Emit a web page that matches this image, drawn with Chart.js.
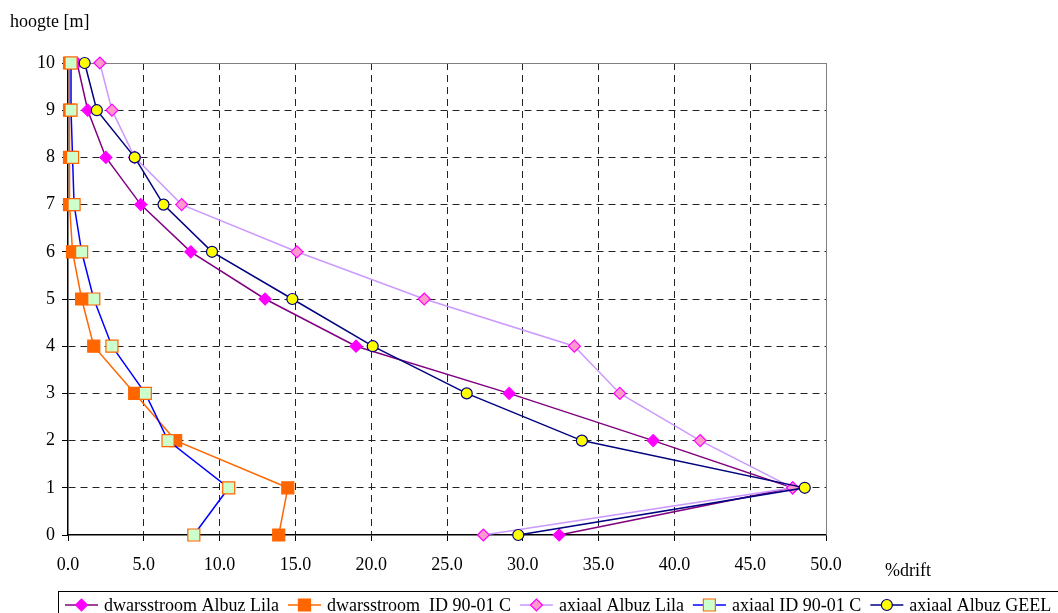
<!DOCTYPE html>
<html>
<head>
<meta charset="utf-8">
<script src="https://cdn.jsdelivr.net/npm/chart.js@4.4.1/dist/chart.umd.min.js"></script>
<style>
  html, body { margin: 0; padding: 0; background: #fff; }
  #wrap { width: 1058px; height: 613px; position: relative; }
</style>
</head>
<body>
<div id="wrap"><canvas id="driftChart"></canvas></div>
<script>
// hoogte (m) en % drift per meetreeks
const hoogtes = [0, 1, 2, 3, 4, 5, 6, 7, 8, 9, 10];
const dwarsAlbuzLila = [32.4, 47.8, 38.6, 29.1, 19.0, 13.0, 8.1, 4.8, 2.5, 1.3, 0.6];
const dwarsID9001C = [13.9, 14.5, 7.1, 4.4, 1.7, 0.9, 0.3, 0.1, 0.1, 0.1, 0.1];
const axiaalAlbuzLila = [27.4, 47.8, 41.7, 36.4, 33.4, 23.5, 15.1, 7.5, 4.4, 2.9, 2.1];
const axiaalID9001C = [8.3, 10.6, 6.6, 5.1, 2.9, 1.7, 0.9, 0.4, 0.3, 0.2, 0.2];
const axiaalAlbuzGeel = [29.7, 48.6, 33.9, 26.3, 20.1, 14.8, 9.5, 6.3, 4.4, 1.9, 1.1];

const xTicks = [0, 5, 10, 15, 20, 25, 30, 35, 40, 45, 50];
const yTicks = [0, 1, 2, 3, 4, 5, 6, 7, 8, 9, 10];

const FONT = '"Liberation Serif", "Times New Roman", serif';

const toPoints = (vals) => vals.map((v, i) => ({ x: v, y: hoogtes[i] }));

const reeks = (label, vals, line, fill, border, style, radius, order) => ({
    label: label,
    data: toPoints(vals),
    showLine: true,
    clip: false,
    borderColor: line,
    borderWidth: 1.5,
    pointStyle: style,
    pointRadius: radius,
    pointHoverRadius: radius,
    pointBackgroundColor: fill,
    pointBorderColor: border,
    pointBorderWidth: 1.2,
    order: order
});

const datasets = [
    reeks('dwarsstroom Albuz Lila', dwarsAlbuzLila, '#800080', '#FF00FF', '#FF00FF', 'rectRot', 6, 5),
    reeks('dwarsstroom  ID 90-01 C', dwarsID9001C, '#FF6600', '#FF6600', '#FF6600', 'rect', 8.5, 4),
    reeks('axiaal Albuz Lila', axiaalAlbuzLila, '#CC99FF', '#FF99CC', '#FF00FF', 'rectRot', 6, 3),
    reeks('axiaal ID 90-01 C', axiaalID9001C, '#0000FF', '#CCFFCC', '#FF6600', 'rect', 8.5, 2),
    reeks('axiaal Albuz GEEL', axiaalAlbuzGeel, '#000080', '#FFFF00', '#000080', 'circle', 5.5, 1)
];

// assen-titels, kader en legenda
const extras = {
    id: 'extras',
    beforeDatasetsDraw(chart) {
        const { ctx, chartArea: a } = chart;
        ctx.save();
        ctx.strokeStyle = '#808080';
        ctx.lineWidth = 1;
        ctx.beginPath();
        ctx.moveTo(a.left, Math.round(a.top) + 0.5);
        ctx.lineTo(a.right, Math.round(a.top) + 0.5);
        ctx.moveTo(Math.round(a.right) + 0.5, a.top);
        ctx.lineTo(Math.round(a.right) + 0.5, a.bottom);
        ctx.stroke();
        ctx.restore();
    },
    afterDraw(chart) {
        const ctx = chart.ctx;
        ctx.save();
        ctx.fillStyle = '#000';
        ctx.font = '18px ' + FONT;
        ctx.textBaseline = 'middle';
        ctx.textAlign = 'left';
        ctx.fillText('hoogte [m]', 10, 22);
        ctx.fillText('%drift', 885, 571);

        // legenda
        ctx.strokeStyle = '#000';
        ctx.lineWidth = 1;
        ctx.strokeRect(58.5, 591.5, 1010, 40);
        let x = 65;
        const y = 605;
        ctx.textBaseline = 'alphabetic';
        chart.data.datasets.forEach((ds) => {
            ctx.strokeStyle = ds.borderColor;
            ctx.lineWidth = 1.5;
            ctx.beginPath();
            ctx.moveTo(x, y);
            ctx.lineTo(x + 33, y);
            ctx.stroke();
            ctx.fillStyle = ds.pointBackgroundColor;
            ctx.strokeStyle = ds.pointBorderColor;
            ctx.lineWidth = ds.pointBorderWidth;
            Chart.helpers.drawPoint(ctx, {
                pointStyle: ds.pointStyle,
                radius: ds.pointRadius,
                rotation: 0,
                borderWidth: ds.pointBorderWidth
            }, x + 16.5, y);
            ctx.fillStyle = '#000';
            ctx.fillText(ds.label, x + 39, 611);
            x += 39 + ctx.measureText(ds.label).width + 9;
        });
        ctx.restore();
    }
};

const ctx = document.getElementById('driftChart').getContext('2d');
new Chart(ctx, {
    type: 'scatter',
    data: { datasets: datasets },
    plugins: [extras],
    options: {
        responsive: true,
        maintainAspectRatio: false,
        animation: false,
        layout: { padding: { left: 0, top: 63, right: 232, bottom: 0 } },
        plugins: {
            legend: { display: false },
            tooltip: { enabled: false }
        },
        scales: {
            x: {
                type: 'linear',
                min: 0,
                max: 50,
                afterBuildTicks: (scale) => { scale.ticks = xTicks.map(v => ({ value: v })); },
                afterFit: (scale) => { scale.height = 78; },
                ticks: {
                    callback: (v) => Number(v).toFixed(1),
                    color: '#000',
                    font: { family: FONT, size: 18 },
                    padding: 13,
                    maxRotation: 0
                },
                grid: {
                    color: (c) => (c.index === 0 || c.index === xTicks.length - 1) ? 'transparent' : '#222',
                    tickColor: '#000',
                    tickLength: 6,
                    lineWidth: 1
                },
                border: { display: true, color: '#000', width: 1.5, dash: [7, 5] }
            },
            y: {
                type: 'linear',
                min: 0,
                max: 10,
                afterBuildTicks: (scale) => { scale.ticks = yTicks.map(v => ({ value: v })); },
                afterFit: (scale) => { scale.width = 68; },
                ticks: {
                    color: '#000',
                    font: { family: FONT, size: 18 },
                    padding: 7
                },
                grid: {
                    color: (c) => (c.index === 0 || c.index === yTicks.length - 1) ? 'transparent' : '#222',
                    tickColor: '#000',
                    tickLength: 6,
                    lineWidth: 1
                },
                border: { display: true, color: '#000', width: 1.5, dash: [7, 5] }
            }
        }
    }
});
</script>
</body>
</html>
